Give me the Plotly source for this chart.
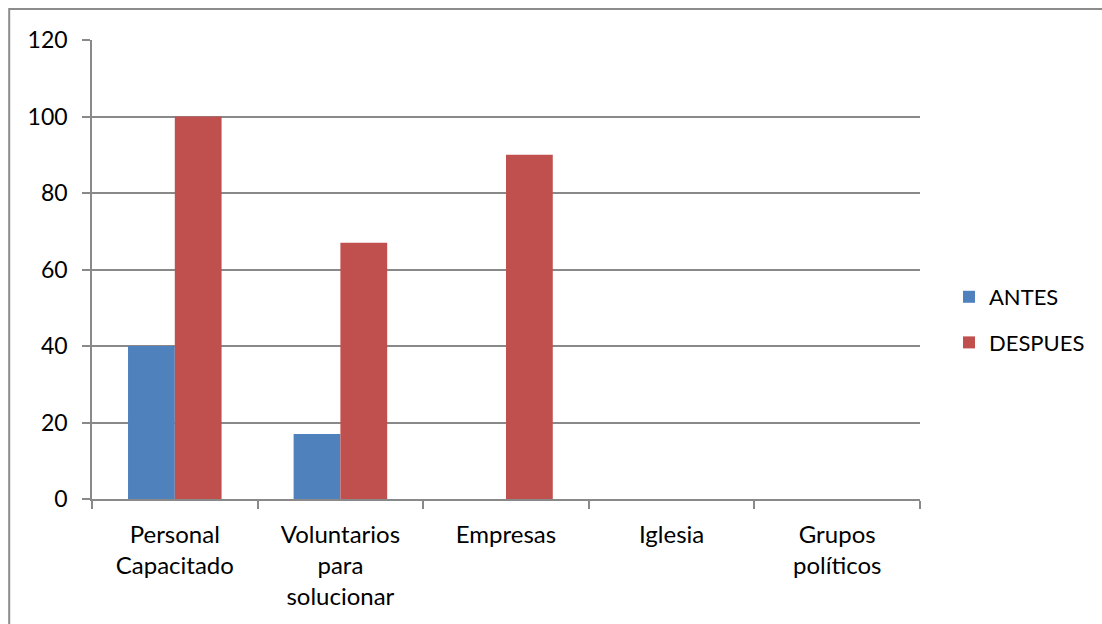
import plotly.graph_objects as go

categories = ["Personal<br>Capacitado", "Voluntarios<br>para<br>solucionar", "Empresas", "Iglesia", "Grupos<br>políticos"]
antes = [40, 17, 0, 0, 0]
despues = [100, 67, 90, 0, 0]
y_ticks = [0, 20, 40, 60, 80, 100, 120]

GRID = "#898989"
FONT = "Lato"
FS = 24

fig = go.Figure()
fig.add_trace(go.Bar(name="ANTES", x=categories, y=antes, marker_color="#4F81BD",
                     marker_line_width=0, legendgroup="a"))
fig.add_trace(go.Bar(name="DESPUES", x=categories, y=despues, marker_color="#C0504D",
                     marker_line_width=0, legendgroup="d"))

fig.update_layout(
    width=1102, height=624,
    margin=dict(l=92, r=180, t=40, b=125),
    paper_bgcolor="white", plot_bgcolor="white",
    barmode="group", bargap=0.435, bargroupgap=0,
    font=dict(family=FONT, size=FS, color="black"),
    legend=dict(x=1.035, y=0.39, xanchor="left", yanchor="middle",
                font=dict(size=FS - 2), tracegroupgap=14, itemwidth=30),
    showlegend=True,
)
fig.update_xaxes(
    type="category", tickson="boundaries", ticks="outside", ticklen=8,
    tickcolor=GRID, tickwidth=1.5, showgrid=False,
    showline=True, linecolor=GRID, linewidth=1.5,
    tickfont=dict(size=FS), ticklabelstandoff=13,
)
fig.update_yaxes(
    range=[0, 120], tickvals=y_ticks, ticks="outside", ticklen=8,
    tickcolor=GRID, tickwidth=1.5,
    showgrid=True, gridcolor=GRID, gridwidth=1.5,
    showline=True, linecolor=GRID, linewidth=1.5,
    zeroline=False, tickfont=dict(size=FS - 1), ticklabelstandoff=10,
)

# outer chart frame
fig.add_shape(type="rect", xref="paper", yref="paper",
              x0=(9 - 92) / 830, x1=1.3, y0=-0.4, y1=(499 - 9) / 459,
              line=dict(color="#8c8c8c", width=2), fillcolor="rgba(0,0,0,0)", layer="below")

fig.write_html("out.html")
